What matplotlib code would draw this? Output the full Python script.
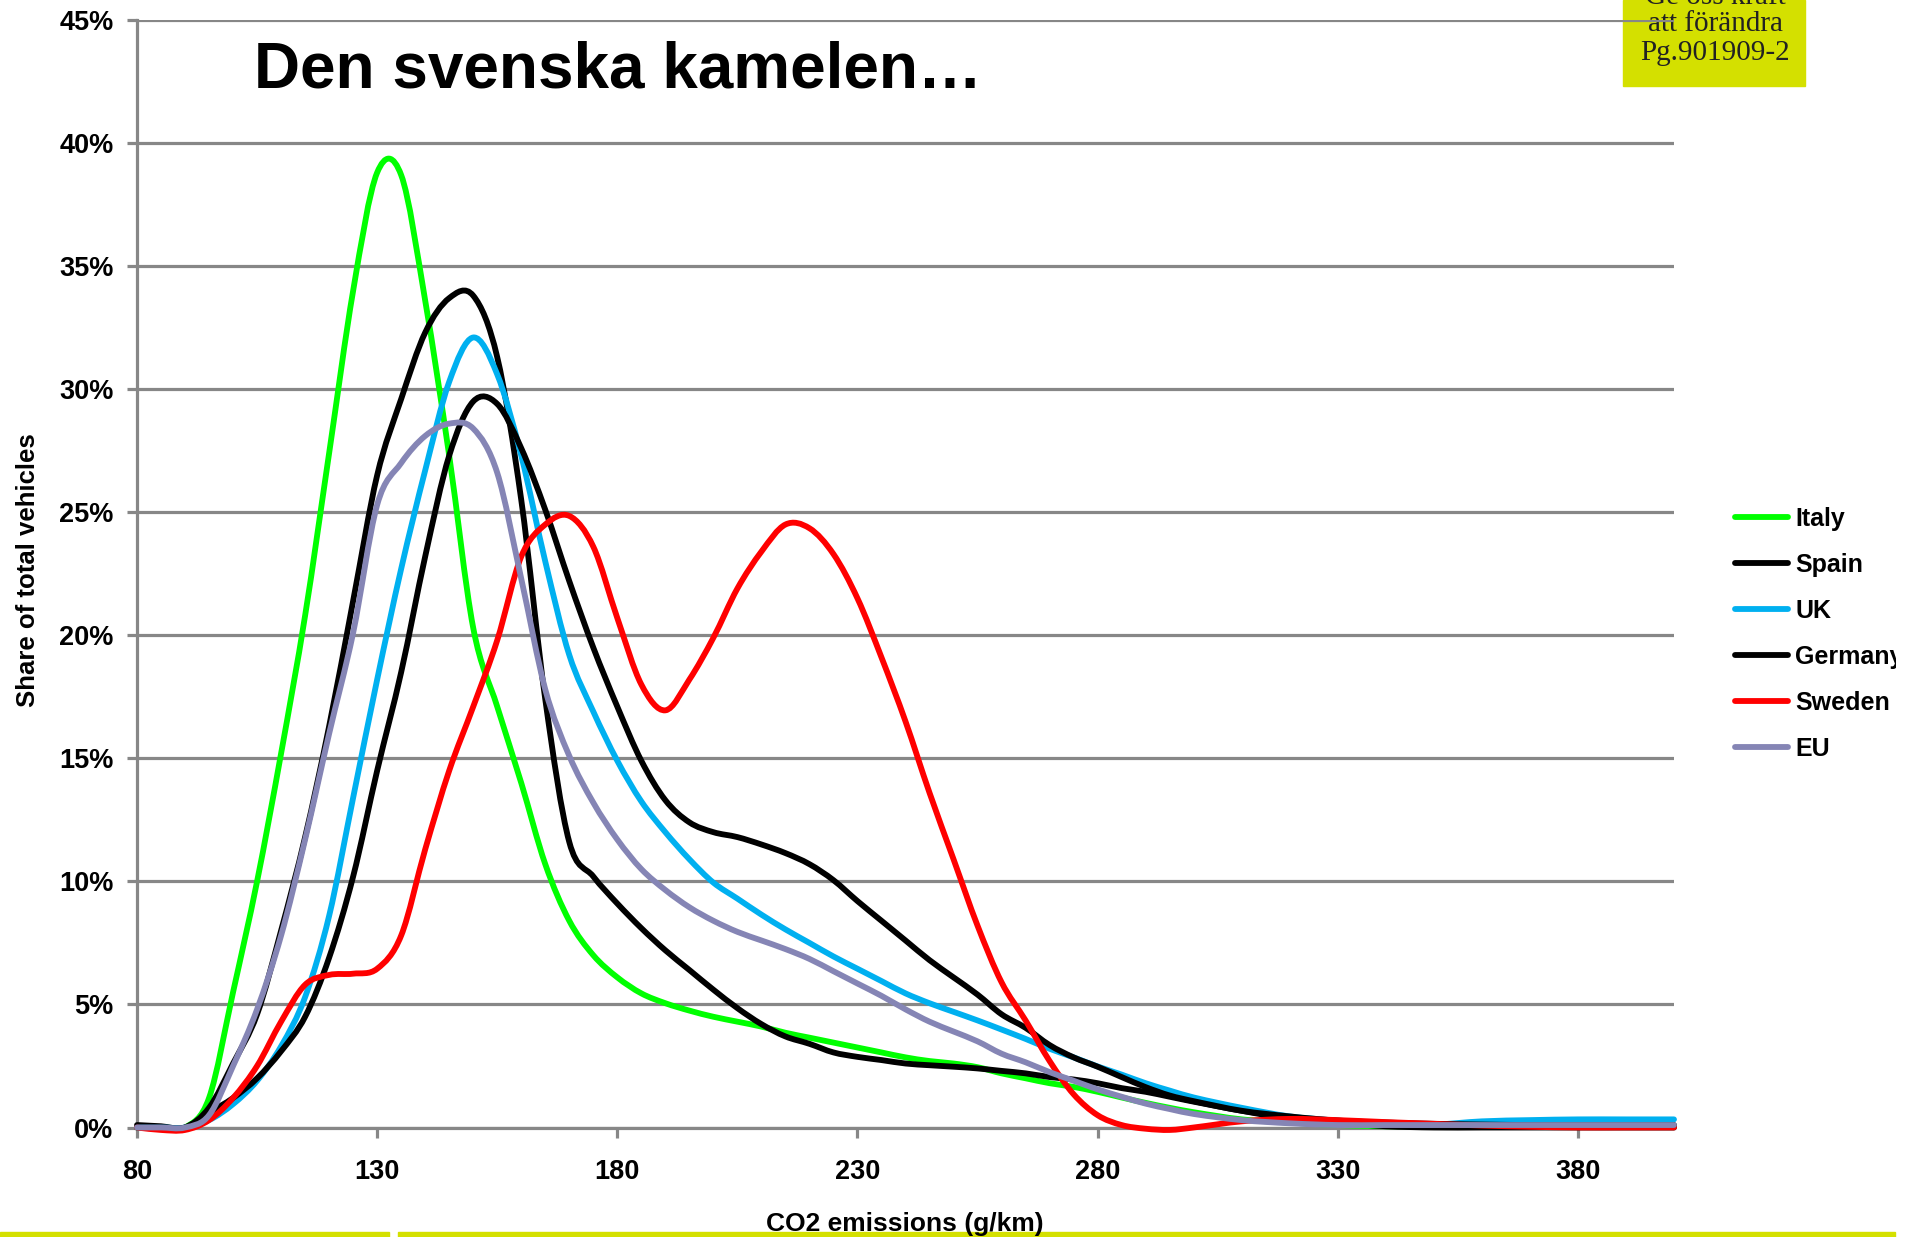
import matplotlib
matplotlib.use("Agg")
import matplotlib.pyplot as plt
from matplotlib.patches import Rectangle, PathPatch
from matplotlib.path import Path
from matplotlib.lines import Line2D
from matplotlib.transforms import Bbox, TransformedBbox

plt.rcParams['font.family'] = ['Liberation Sans', 'DejaVu Sans']
plt.rcParams['font.weight'] = 'bold'

# CO2 emissions (g/km)
co2 = [80, 85, 90, 95, 100, 105, 110, 115, 120, 125, 130, 135, 140, 145, 150,
       155, 160, 165, 170, 175, 180, 185, 190, 195, 200, 205, 210, 215, 220,
       225, 230, 235, 240, 245, 250, 255, 260, 265, 270, 275, 280, 285, 290,
       295, 300, 310, 320, 330, 340, 350, 360, 370, 380, 390, 400]

# share of total vehicles (%)
italy = [0, 0, 0, 1.2, 5.5, 10.0, 15.2, 20.8, 27.4, 34.0, 38.8, 38.7, 33.6, 27.3, 20.3,
         17.1, 14.0, 10.7, 8.4, 7.0, 6.1, 5.45, 5.05, 4.75, 4.5, 4.3, 4.1, 3.85, 3.65,
         3.45, 3.25, 3.05, 2.85, 2.7, 2.6, 2.45, 2.2, 2.0, 1.8, 1.65, 1.45, 1.22, 1.0,
         0.8, 0.62, 0.33, 0.2, 0.1, 0.05, 0.05, 0.05, 0.05, 0.05, 0.05, 0.05]
spain = [0.1, 0.05, 0, 0.8, 2.6, 4.6, 8.0, 11.8, 16.3, 21.4, 26.5, 29.6, 32.3, 33.7, 33.8,
         31.3, 25.5, 17.4, 11.6, 10.2, 9.1, 8.1, 7.2, 6.4, 5.6, 4.85, 4.2, 3.7, 3.4,
         3.05, 2.87, 2.74, 2.6, 2.53, 2.47, 2.4, 2.3, 2.2, 2.05, 1.95, 1.8, 1.6, 1.45,
         1.25, 1.05, 0.68, 0.35, 0.2, 0.05, 0, 0, 0, 0, 0, 0]
uk = [0, 0, 0, 0.3, 0.95, 1.9, 3.3, 5.3, 8.6, 13.4, 18.2, 22.7, 26.7, 30.3, 32.1,
      30.6, 27.3, 23.0, 19.2, 16.9, 14.9, 13.25, 12.0, 10.9, 9.95, 9.3, 8.65, 8.05, 7.5,
      6.95, 6.45, 5.95, 5.45, 5.05, 4.7, 4.35, 3.98, 3.6, 3.2, 2.85, 2.48, 2.15, 1.8,
      1.5, 1.22, 0.8, 0.45, 0.28, 0.15, 0.12, 0.25, 0.3, 0.33, 0.33, 0.33]
germany = [0, 0, 0, 0.6, 1.2, 2.0, 3.1, 4.5, 6.9, 10.2, 14.5, 18.5, 23.2, 27.3, 29.5,
           29.4, 27.6, 25.1, 22.2, 19.5, 17.1, 14.9, 13.3, 12.4, 12.0, 11.8, 11.5, 11.15, 10.7,
           10.05, 9.2, 8.4, 7.6, 6.8, 6.1, 5.4, 4.6, 4.05, 3.35, 2.85, 2.47, 2.05, 1.64,
           1.3, 1.07, 0.68, 0.45, 0.28, 0.2, 0.15, 0.12, 0.1, 0.1, 0.1, 0.1]
sweden = [0, -0.1, -0.1, 0.3, 1.2, 2.5, 4.3, 5.8, 6.2, 6.25, 6.45, 7.8, 11.3, 14.5, 17.1,
          19.8, 23.2, 24.5, 24.85, 23.6, 20.7, 18.0, 16.95, 18.2, 19.9, 21.9, 23.4, 24.5, 24.35,
          23.3, 21.5, 19.1, 16.5, 13.6, 10.9, 8.2, 5.9, 4.35, 2.7, 1.35, 0.5, 0.1, -0.05,
          -0.1, 0.0, 0.25, 0.35, 0.3, 0.22, 0.15, 0.08, 0.03, 0, 0, 0]
eu = [0, 0, 0, 0.5, 2.5, 4.8, 7.8, 11.7, 16.0, 20.1, 25.3, 27.0, 28.1, 28.6, 28.4,
      26.6, 22.3, 17.8, 15.1, 13.2, 11.7, 10.5, 9.65, 8.95, 8.4, 7.95, 7.6, 7.25, 6.85,
      6.35, 5.85, 5.35, 4.8, 4.3, 3.9, 3.5, 3.0, 2.65, 2.25, 1.9, 1.55, 1.25, 0.97,
      0.75, 0.55, 0.3, 0.17, 0.1, 0.1, 0.1, 0.1, 0.1, 0.1, 0.1, 0.1]

series = [("Italy", italy, "#00ff00"),
          ("Spain", spain, "#000000"),
          ("UK", uk, "#00b0f0"),
          ("Germany", germany, "#000000"),
          ("Sweden", sweden, "#ff0000"),
          ("EU", eu, "#8585b5")]

GRAY = "#878787"
LIME = "#d4e000"
W, H = 1919, 1237
LW = 4.2


def smooth_path(xs, ys):
    """Excel-style smoothed line: cubic bezier through every data point."""
    n = len(xs)
    verts = [(xs[0], ys[0])]
    codes = [Path.MOVETO]
    for i in range(n - 1):
        a = max(i - 1, 0)
        b = min(i + 2, n - 1)
        h = xs[i + 1] - xs[i]
        m1 = (ys[i + 1] - ys[a]) / (xs[i + 1] - xs[a])
        m2 = (ys[b] - ys[i]) / (xs[b] - xs[i])
        verts += [(xs[i] + h / 3, ys[i] + m1 * h / 3),
                  (xs[i + 1] - h / 3, ys[i + 1] - m2 * h / 3),
                  (xs[i + 1], ys[i + 1])]
        codes += [Path.CURVE4] * 3
    return Path(verts, codes)


fig = plt.figure(figsize=(W / 100, H / 100), dpi=100)
ax = fig.add_axes([137 / W, (H - 1127.5) / H, (1674 - 137) / W, (1127.5 - 20) / H])
ax.patch.set_alpha(0)

handles = []
for name, vals, col in series:
    ax.add_patch(PathPatch(smooth_path(co2, vals), facecolor="none", edgecolor=col,
                           lw=LW, capstyle="round", joinstyle="round",
                           clip_on=False, zorder=3))
    handles.append(Line2D([], [], color=col, lw=LW, solid_capstyle="round", label=name))

ax.set_xlim(80, 400)
ax.set_ylim(0, 45)
ax.set_xticks(range(80, 400, 50))
ax.set_yticks(range(0, 50, 5))
ax.set_yticklabels([f"{v}%" for v in range(0, 50, 5)])
ax.yaxis.grid(True, color=GRAY, lw=2.3)
ax.set_axisbelow(True)
for s in ["top", "right"]:
    ax.spines[s].set_visible(False)
for s in ["left", "bottom"]:
    ax.spines[s].set_color(GRAY)
    ax.spines[s].set_linewidth(2.3)
ax.tick_params(axis="both", direction="out", length=7, width=2.3, color=GRAY,
               labelsize=19.5)
ax.tick_params(axis="x", pad=16)
ax.tick_params(axis="y", pad=10)

fig.text(254 / W, 1 - 87 / H, "Den svenska kamelen\u2026", fontsize=46,
         fontweight="bold", va="baseline", ha="left")
fig.text(905 / W, 1 - 1224 / H, "CO2 emissions (g/km)", fontsize=19,
         fontweight="bold", ha="center", va="center")
fig.text(28 / W, 1 - 570 / H, "Share of total vehicles", fontsize=18.5,
         fontweight="bold", ha="center", va="center", rotation=90)

# logo box top right
fig.add_artist(Rectangle((1623 / W, 1 - 86 / H), 182 / W, 86 / H,
                         transform=fig.transFigure, color=LIME, zorder=-5))
for txt, base in [("Ge oss kraft", 4), ("att förändra", 31), ("Pg.901909-2", 60)]:
    fig.text(1715 / W, 1 - base / H, txt, fontsize=21, family="Liberation Serif",
             fontweight="normal", color="#222222", ha="center", va="baseline",
             zorder=-4)

# bottom bars
fig.add_artist(Rectangle((0, 0), 389 / W, 5 / H, transform=fig.transFigure,
                         color=LIME, zorder=-5))
fig.add_artist(Rectangle((398 / W, 0), (1895 - 398) / W, 5 / H,
                         transform=fig.transFigure, color=LIME, zorder=-5))

leg = fig.legend(handles=handles, loc="upper left",
                 bbox_to_anchor=(1735 / W, 1 - 507 / H),
                 frameon=False, fontsize=18, borderpad=0, borderaxespad=0,
                 handlelength=2.1, handletextpad=0.3, labelspacing=0.88)
clip = TransformedBbox(Bbox([[0, 0], [1896 / W, 1]]), fig.transFigure)
for t in leg.get_texts():
    t.set_clip_box(clip)
    t.set_clip_on(True)

fig.savefig("out.png", dpi=100)
